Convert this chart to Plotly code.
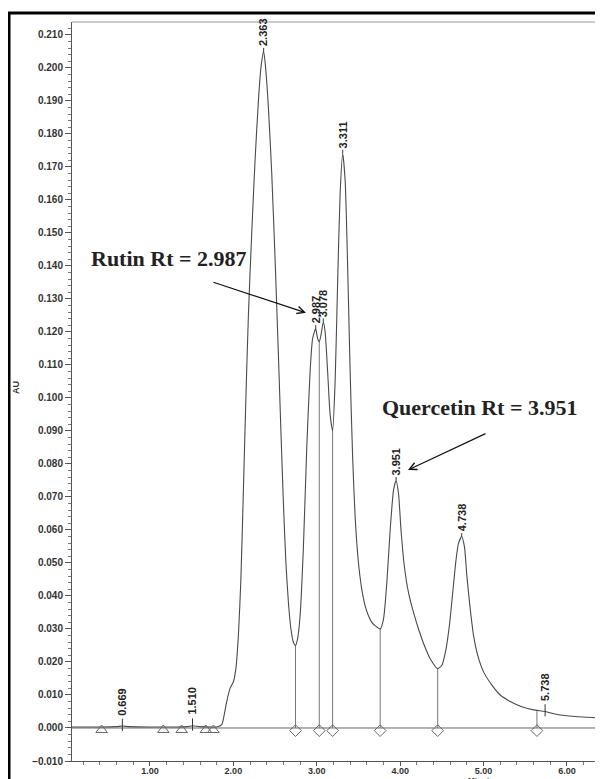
import plotly.graph_objects as go

# ---- chromatogram trace (minutes, AU) ----
time_min = [0.065, 0.40, 0.60, 0.669, 0.75, 1.00, 1.30, 1.45, 1.51, 1.60, 1.75, 1.80, 1.86, 1.89,
            1.92, 1.96, 2.00, 2.03, 2.06, 2.09, 2.12, 2.15, 2.18, 2.22, 2.26, 2.30, 2.33, 2.363,
            2.39, 2.42, 2.46, 2.50, 2.54, 2.57, 2.60, 2.63, 2.66, 2.69, 2.72, 2.745, 2.77, 2.80,
            2.84, 2.88, 2.92, 2.95, 2.987, 3.01, 3.03, 3.05, 3.078, 3.10, 3.13, 3.16, 3.19, 3.22,
            3.25, 3.28, 3.311, 3.34, 3.37, 3.40, 3.43, 3.46, 3.50, 3.54, 3.58, 3.62, 3.66, 3.70,
            3.76, 3.80, 3.84, 3.88, 3.92, 3.951, 3.98, 4.01, 4.05, 4.10, 4.16, 4.22, 4.29, 4.36,
            4.45, 4.50, 4.55, 4.59, 4.63, 4.67, 4.70, 4.738, 4.77, 4.80, 4.84, 4.88, 4.93, 5.00,
            5.10, 5.20, 5.32, 5.45, 5.60, 5.738, 5.90, 6.10, 6.40]
absorbance = [0.0003, 0.0003, 0.0004, 0.0006, 0.0004, 0.0003, 0.0003, 0.0004, 0.0007, 0.0004, 0.0003,
              0.0003, 0.001, 0.004, 0.008, 0.012, 0.014, 0.018, 0.028, 0.045, 0.072, 0.100, 0.125,
              0.150, 0.172, 0.190, 0.200, 0.205, 0.199, 0.188, 0.168, 0.142, 0.113, 0.090, 0.068,
              0.050, 0.038, 0.030, 0.026, 0.025, 0.027, 0.034, 0.055, 0.085, 0.108, 0.118, 0.121,
              0.118, 0.117, 0.119, 0.123, 0.120, 0.108, 0.095, 0.090, 0.105, 0.135, 0.162, 0.174,
              0.166, 0.140, 0.108, 0.082, 0.064, 0.050, 0.042, 0.037, 0.034, 0.032, 0.031, 0.030,
              0.033, 0.044, 0.060, 0.072, 0.075, 0.071, 0.060, 0.049, 0.041, 0.035, 0.030, 0.025,
              0.021, 0.018, 0.019, 0.024, 0.031, 0.041, 0.051, 0.056, 0.058, 0.055, 0.046, 0.036,
              0.028, 0.022, 0.017, 0.013, 0.010, 0.008, 0.0065, 0.0055, 0.005, 0.004, 0.0035, 0.003]

# ---- labelled peaks ----
peak_rt = [2.363, 2.987, 3.078, 3.311, 3.951, 4.738]
peak_au = [0.205, 0.121, 0.123, 0.174, 0.075, 0.058]
peak_labels = ["2.363", "2.987", "3.078", "3.311", "3.951", "4.738"]

minor_rt = [0.669, 1.510, 5.738]
minor_au = [0.0006, 0.0007, 0.005]
minor_labels = ["0.669", "1.510", "5.738"]

# ---- integration drop lines (valleys) and baseline start markers ----
drop_rt = [2.745, 3.03, 3.19, 3.76, 4.45, 5.64]
drop_au = [0.025, 0.117, 0.090, 0.030, 0.018, 0.0055]
start_rt = [0.42, 1.16, 1.38, 1.67, 1.76]

y_ticks = [round(-0.010 + 0.01 * i, 3) for i in range(23)]
x_ticks = [1.0, 2.0, 3.0, 4.0, 5.0, 6.0]

# page is drawn with an 8px body margin: work in page pixels, convert to figure
OFF = 8
W, H = 603 - OFF, 779 - OFF
PLOT_L, PLOT_R, PLOT_T, PLOT_B = 72, 600, 22, 761          # page pixels
L, R, T, B = PLOT_L - OFF, W - (PLOT_R - OFF), PLOT_T - OFF, H - (PLOT_B - OFF)
pw, ph = W - L - R, H - T - B


def px(x):
    return (x - PLOT_L) / pw


def py(y):
    return 1 - (y - PLOT_T) / ph


LINE = "#4a4a4a"
fig = go.Figure()

# drop lines
dx, dy = [], []
for t, a in zip(drop_rt, drop_au):
    dx += [t, t, None]
    dy += [0, a, None]
fig.add_trace(go.Scatter(x=dx, y=dy, mode="lines", line=dict(color="#777", width=1),
                         hoverinfo="skip", showlegend=False))

# baseline
fig.add_trace(go.Scatter(x=[time_min[0], time_min[-1]], y=[0, 0], mode="lines",
                         line=dict(color="#666", width=1), showlegend=False, hoverinfo="skip"))

# chromatogram
fig.add_trace(go.Scatter(x=time_min, y=absorbance, mode="lines",
                         line=dict(color=LINE, width=1.1, shape="spline", smoothing=0.6),
                         showlegend=False))

# markers
fig.add_trace(go.Scatter(x=drop_rt, y=[-0.0008] * len(drop_rt), mode="markers",
                         marker=dict(symbol="diamond-open", size=9, color="#666", line=dict(width=1)),
                         showlegend=False))
fig.add_trace(go.Scatter(x=start_rt, y=[-0.0006] * len(start_rt), mode="markers",
                         marker=dict(symbol="triangle-up-open", size=10, color="#666", line=dict(width=1)),
                         showlegend=False))

# minor peak tick marks
mx, my = [], []
for t, a in zip(minor_rt, minor_au):
    mx += [t, t, None]
    my += [a - 0.0015, a + 0.0022, None]
fig.add_trace(go.Scatter(x=mx, y=my, mode="lines", line=dict(color="#333", width=1),
                         showlegend=False, hoverinfo="skip"))

narrow = "Liberation Sans Narrow, Arial Narrow, Liberation Sans"
annotations = []
for t, a, lab in zip(peak_rt, peak_au, peak_labels):
    annotations.append(dict(x=t, y=a, xref="x", yref="y", text="<b>" + lab + "</b>", textangle=-90,
                            showarrow=True, arrowhead=0, arrowwidth=1, arrowcolor="#333",
                            ax=0, ay=-19, font=dict(family=narrow, size=11, color="#222")))
for t, a, lab in zip(minor_rt, minor_au, minor_labels):
    annotations.append(dict(x=t, y=a + 0.0026, xref="x", yref="y", text="<b>" + lab + "</b>",
                            textangle=-90, showarrow=False, yanchor="bottom",
                            font=dict(family=narrow, size=11, color="#222")))

serif = "Liberation Serif, Times New Roman, serif"
annotations += [
    dict(x=px(169), y=py(258), xref="paper", yref="paper", text="<b>Rutin Rt = 2.987</b>",
         xanchor="center", yanchor="middle",
         showarrow=False, font=dict(family=serif, size=22, color="#222")),
    dict(x=px(479.5), y=py(407), xref="paper", yref="paper", text="<b>Quercetin Rt = 3.951</b>",
         xanchor="center", yanchor="middle",
         showarrow=False, font=dict(family=serif, size=22, color="#222")),
    dict(x=2.870, y=0.1258, xref="x", yref="y", text="", showarrow=True, arrowhead=5, arrowsize=1.2,
         arrowwidth=1.2, arrowcolor="#111", ax=-94, ay=-31),
    dict(x=4.094, y=0.0782, xref="x", yref="y", text="", showarrow=True, arrowhead=5, arrowsize=1.2,
         arrowwidth=1.2, arrowcolor="#111", ax=79, ay=-37),
    dict(x=px(16), y=py(388), xref="paper", yref="paper", text="<b>AU</b>", textangle=-90,
         xanchor="center", yanchor="middle",
         showarrow=False, font=dict(family="Liberation Sans", size=9, color="#333")),
    dict(x=px(483), y=py(774), xref="paper", yref="paper", text="<b>Minutes</b>", showarrow=False,
         xanchor="center", yanchor="top", font=dict(family="Liberation Sans", size=8, color="#333")),
]

shapes = [
    dict(type="line", xref="paper", yref="paper", x0=0, x1=1, y0=1, y1=1,
         line=dict(color="#999", width=1)),
    dict(type="rect", xref="paper", yref="paper",
         x0=px(9), x1=px(640), y0=py(820), y1=py(13),
         line=dict(color="#000", width=3)),
]

tick_font = dict(family="Liberation Sans, Arial", size=10, color="#333", weight="bold")
xtick_font = dict(family="Liberation Sans, Arial", size=9, color="#333", weight="bold")
fig.update_layout(
    width=W, height=H, margin=dict(l=L, r=R, t=T, b=B, autoexpand=False),
    paper_bgcolor="white", plot_bgcolor="white",
    annotations=annotations, shapes=shapes,
    font=dict(family="Liberation Sans, Arial", size=9, color="#333"),
    xaxis=dict(range=[0.065, 6.396], tickvals=x_ticks, tickformat=".2f", showgrid=False,
               zeroline=False, showline=True, linecolor="#555", linewidth=1,
               ticks="outside", ticklen=4, tickcolor="#555", tickfont=xtick_font, automargin=False,
               ticklabelstandoff=-3,
               minor=dict(dtick=0.2, tick0=0, ticks="outside", ticklen=3, tickcolor="#777")),
    yaxis=dict(range=[-0.010, 0.2139], tickvals=y_ticks, tickformat=".3f", showgrid=False,
               zeroline=False, showline=True, linecolor="#555", linewidth=1,
               ticks="outside", ticklen=6, tickcolor="#555", tickfont=tick_font, automargin=False,
               minor=dict(dtick=0.002, tick0=0, ticks="outside", ticklen=3, tickcolor="#777")),
)

fig.write_html("out.html")
